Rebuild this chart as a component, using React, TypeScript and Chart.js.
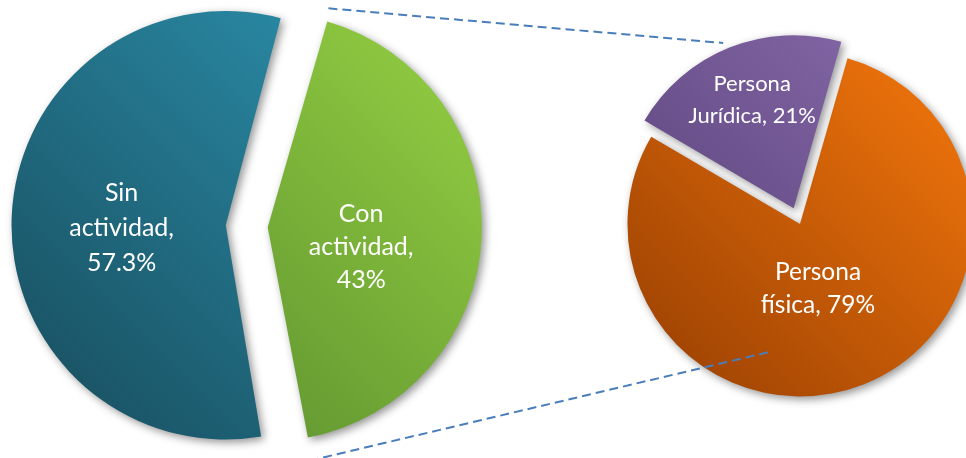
import React, { useEffect, useRef } from 'react';
import { Chart, registerables } from 'chart.js';

Chart.register(...registerables);

// ---------------- data ----------------
const primaryCategories = ['Con actividad', 'Sin actividad'];
const primaryValues = [43, 57.3];
const secondaryCategories = ['Persona física', 'Persona Jurídica'];
const secondaryValues = [79, 21];

// ---------------- styles / layout ----------------
const W = 966;
const H = 458;
const FONT = 'Lato, "Open Sans", sans-serif';

const PRIMARY_CENTER = { x: 241, y: 226 };
const PRIMARY_RADIUS = 199;
const PRIMARY_ROTATION = 15.5;
const PRIMARY_OFFSETS = [107, 61];
const PRIMARY_COLORS: [string, string][] = [
  ['#5a8e2e', '#8ec840'],
  ['#1a5466', '#2a8ba6'],
];

const SECONDARY_CENTER = { x: 800, y: 224 };
const SECONDARY_RADIUS = 172.5;
const SECONDARY_ROTATION = 16;
const SECONDARY_OFFSETS = [0, 68];
const SECONDARY_COLORS: [string, string][] = [
  ['#a24503', '#ea710b'],
  ['#594279', '#8366a6'],
];

const primaryLabelLines = primaryCategories.map((c, i) => {
  const words = c.split(' ');
  words[words.length - 1] += ',';
  return [...words, `${primaryValues[i]}%`];
});
const secondaryLabelLines = secondaryCategories.map((c, i) => {
  const words = c.split(' ');
  return [words[0], `${words.slice(1).join(' ')}, ${secondaryValues[i]}%`];
});

const PRIMARY_LABEL = { frac: [0.47, 0.524], dx: [0, 0], dy: [15, 8], size: [25, 25], lh: [33, 35] };
const SECONDARY_LABEL = { frac: [0.39, 0.68], dx: [-7, 2], dy: [2, 1], size: [24.5, 22], lh: [33, 32] };

// connector lines: from edges of the primary "Con actividad" slice to the secondary pie
const CONNECTORS = [
  { edge: 'start', extra: 13, toAngle: 337, toFrac: 1.14 },
  { edge: 'end', extra: 23, toAngle: 193, toFrac: 0.76 },
];

const deg = (d: number) => ((d - 90) * Math.PI) / 180;

function paddingFor(center: { x: number; y: number }) {
  const left = Math.max(0, 2 * center.x - W);
  const right = Math.max(0, W - 2 * center.x);
  const top = Math.max(0, 2 * center.y - H);
  const bottom = Math.max(0, H - 2 * center.y);
  return { left, right, top, bottom };
}

function gradientFor(chart: any, colors: [string, string], r: number) {
  const area = chart.chartArea;
  if (!area) return colors[1];
  const cx = (area.left + area.right) / 2;
  const cy = (area.top + area.bottom) / 2;
  const k = r * 0.75;
  const g = chart.ctx.createLinearGradient(cx - k, cy + k, cx + k, cy - k);
  g.addColorStop(0, colors[0]);
  g.addColorStop(1, colors[1]);
  return g;
}

const shadowPlugin = {
  id: 'sliceShadow',
  beforeDatasetDraw(chart: any) {
    const c = chart.ctx;
    c.save();
    c.shadowColor = 'rgba(0,0,0,0.42)';
    c.shadowBlur = 8;
    c.shadowOffsetX = 3;
    c.shadowOffsetY = 3;
  },
  afterDatasetDraw(chart: any) {
    chart.ctx.restore();
  },
};

function makeLabelPlugin(
  lines: string[][],
  cfg: { frac: number[]; dx: number[]; dy: number[]; size: number[]; lh: number[] }
) {
  return {
    id: 'sliceLabels',
    afterDatasetsDraw(chart: any) {
      const ctx = chart.ctx;
      const meta = chart.getDatasetMeta(0);
      ctx.save();
      ctx.fillStyle = '#ffffff';
      ctx.textAlign = 'center';
      ctx.textBaseline = 'middle';
      meta.data.forEach((arc: any, i: number) => {
        const { x, y, startAngle, endAngle, outerRadius } = arc;
        const mid = (startAngle + endAngle) / 2;
        const off = (arc.options.offset || 0) / 4;
        const d = off + outerRadius * cfg.frac[i];
        const px = x + Math.cos(mid) * d + cfg.dx[i];
        const py = y + Math.sin(mid) * d + cfg.dy[i];
        ctx.font = `${cfg.size[i]}px ${FONT}`;
        const ls = lines[i];
        ls.forEach((t, k) => ctx.fillText(t, px, py + (k - (ls.length - 1) / 2) * cfg.lh[i]));
      });
      ctx.restore();
    },
  };
}

function sliceGeometry(arc: any) {
  const { x, y, startAngle, endAngle, outerRadius, circumference } = arc;
  const mid = (startAngle + endAngle) / 2;
  const off = (arc.options.offset || 0) / 4;
  const fix = 1 - Math.sin(Math.min(Math.PI, circumference || 0));
  return {
    ax: x + Math.cos(mid) * off,
    ay: y + Math.sin(mid) * off,
    r: outerRadius + off * fix,
    startAngle,
    endAngle,
  };
}

export default function App() {
  const leftRef = useRef<HTMLCanvasElement>(null);
  const rightRef = useRef<HTMLCanvasElement>(null);

  useEffect(() => {
    if (!leftRef.current || !rightRef.current) return;

    const left = new Chart(leftRef.current, {
      type: 'pie',
      data: {
        labels: primaryCategories,
        datasets: [
          {
            data: primaryValues,
            backgroundColor: (c: any) => gradientFor(c.chart, PRIMARY_COLORS[c.dataIndex], PRIMARY_RADIUS + 15),
            borderWidth: 0,
            offset: PRIMARY_OFFSETS,
            clip: false,
          } as any,
        ],
      },
      options: {
        responsive: false,
        animation: false,
        rotation: PRIMARY_ROTATION,
        radius: PRIMARY_RADIUS,
        layout: { padding: paddingFor(PRIMARY_CENTER) },
        plugins: { legend: { display: false }, tooltip: { enabled: false }, title: { display: false } },
        events: [],
      } as any,
      plugins: [shadowPlugin, makeLabelPlugin(primaryLabelLines, PRIMARY_LABEL)],
    });

    const connectorPlugin = {
      id: 'connectors',
      afterDraw(chart: any) {
        const con = left.getDatasetMeta(0).data[0] as any;
        const sec = chart.getDatasetMeta(0).data[0] as any;
        if (!con || !sec) return;
        const g = sliceGeometry(con);
        const ctx = chart.ctx;
        ctx.save();
        ctx.strokeStyle = '#4a7ebb';
        ctx.lineWidth = 2;
        ctx.setLineDash([9, 5]);
        CONNECTORS.forEach((cn) => {
          const a = cn.edge === 'start' ? g.startAngle : g.endAngle;
          const rr = g.r + cn.extra;
          const x1 = g.ax + Math.cos(a) * rr;
          const y1 = g.ay + Math.sin(a) * rr;
          const b = deg(cn.toAngle);
          const x2 = sec.x + Math.cos(b) * sec.outerRadius * cn.toFrac;
          const y2 = sec.y + Math.sin(b) * sec.outerRadius * cn.toFrac;
          ctx.beginPath();
          ctx.moveTo(x1, y1);
          ctx.lineTo(x2, y2);
          ctx.stroke();
        });
        ctx.restore();
      },
    };

    const right = new Chart(rightRef.current, {
      type: 'pie',
      data: {
        labels: secondaryCategories,
        datasets: [
          {
            data: secondaryValues,
            backgroundColor: (c: any) => gradientFor(c.chart, SECONDARY_COLORS[c.dataIndex], SECONDARY_RADIUS),
            borderWidth: 0,
            offset: SECONDARY_OFFSETS,
            clip: false,
          } as any,
        ],
      },
      options: {
        responsive: false,
        animation: false,
        rotation: SECONDARY_ROTATION,
        radius: SECONDARY_RADIUS,
        layout: { padding: paddingFor(SECONDARY_CENTER) },
        plugins: { legend: { display: false }, tooltip: { enabled: false }, title: { display: false } },
        events: [],
      } as any,
      plugins: [shadowPlugin, makeLabelPlugin(secondaryLabelLines, SECONDARY_LABEL), connectorPlugin],
    });

    return () => {
      right.destroy();
      left.destroy();
    };
  }, []);

  return (
    <div style={{ position: 'fixed', left: 0, top: 0, width: W, height: H, background: '#ffffff', overflow: 'hidden' }}>
      <canvas ref={leftRef} width={W} height={H} style={{ position: 'absolute', left: 0, top: 0 }} />
      <canvas ref={rightRef} width={W} height={H} style={{ position: 'absolute', left: 0, top: 0 }} />
    </div>
  );
}
